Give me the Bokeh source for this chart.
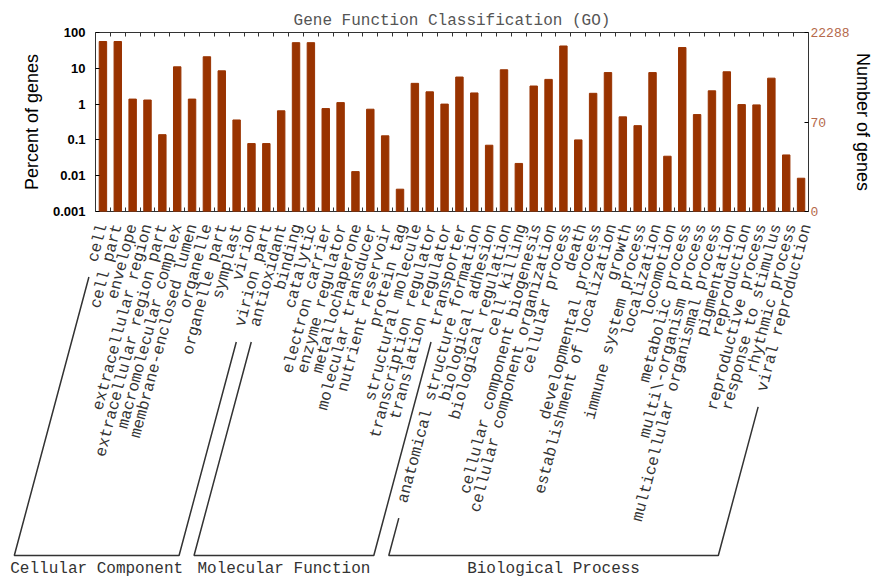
import math
from bokeh.plotting import figure
from bokeh.models import Range1d, FixedTicker, LinearAxis, LogAxis, CustomJSTickFormatter
from bokeh.core.properties import value
from bokeh.embed import file_html
from bokeh.resources import INLINE

# ---------------- data ----------------
categories = [
    "cell", "cell part", "envelope", "extracellular region",
    "extracellular region part", "macromolecular complex",
    "membrane-enclosed lumen", "organelle", "organelle part", "symplast",
    "virion", "virion part",
    "antioxidant", "binding", "catalytic", "electron carrier",
    "enzyme regulator", "metallochaperone", "molecular transducer",
    "nutrient reservoir", "protein tag", "structural molecule",
    "transcription regulator", "translation regulator", "transporter",
    "anatomical structure formation", "biological adhesion",
    "biological regulation", "cell killing", "cellular component biogenesis",
    "cellular component organization", "cellular process", "death",
    "developmental process", "establishment of localization", "growth",
    "immune system process", "localization", "locomotion",
    "metabolic process", "multi\\-organism process",
    "multicellular organismal process", "pigmentation", "reproduction",
    "reproductive process", "response to stimulus", "rhythmic process",
    "viral reproduction",
]
percent = [
    56, 56, 1.38, 1.3, 0.14, 11, 1.38, 21, 8.5, 0.36, 0.079, 0.079,
    0.65, 52, 52, 0.75, 1.1, 0.013, 0.72, 0.13, 0.0042, 3.8, 2.2, 1.0, 5.7,
    2.05, 0.071, 9.1, 0.022, 3.2, 4.9, 42, 0.1, 2.0, 7.6, 0.44, 0.25, 7.6,
    0.035, 38, 0.51, 2.35, 8.0, 0.97, 0.95, 5.3, 0.038, 0.0085,
]
groups = ["Cellular Component", "Molecular Function", "Biological Process"]
group_sizes = [12, 13, 23]
left_ticks = [0.001, 0.01, 0.1, 1, 10, 100]
left_tick_labels = ["0.001", "0.01", "0.1", "1", "10", "100"]
total_genes = 22288
right_tick_counts = [0, 70, 22288]
right_tick_labels = ["0", "70", "22288"]

# ---------------- layout constants ----------------
W = 875
H1 = 221
HB = 356
FL, FR, FT, FB = 95, 61, 32, 10
n = len(categories)
frame_w = W - FL - FR
ppu = frame_w / n
ymin, ymax = 0.001, 100

bar_color = "#993300"
txt_color = "#333333"
mono = "Liberation Mono"
sans = "Liberation Sans"

# ---------------- top figure (bars) ----------------
p = figure(width=W, height=H1, x_range=Range1d(-0.5, n - 0.5),
           y_range=Range1d(ymin, ymax), y_axis_type="log",
           toolbar_location=None, output_backend="svg",
           min_border_left=FL, min_border_right=FR,
           min_border_top=FT, min_border_bottom=FB,
           title="Gene Function Classification (GO)")
p.title.text_font = mono
p.title.text_font_size = "16px"
p.title.text_font_style = "normal"
p.title.text_color = "#555555"
p.title.align = "center"
p.title.standoff = 6
p.grid.visible = False
p.outline_line_color = "#333333"

idx = list(range(n))
p.vbar(x=idx, top=percent, bottom=ymin, width=0.5, color=bar_color)

bounds = [i + 0.5 for i in range(n - 1)]
blank = CustomJSTickFormatter(code="return ''")

def style_x(ax):
    ax.ticker = FixedTicker(ticks=bounds)
    ax.formatter = blank
    ax.major_tick_in = 4
    ax.major_tick_out = 0
    ax.minor_tick_in = 0
    ax.minor_tick_out = 0
    ax.major_label_standoff = 0
    ax.axis_line_color = None
    ax.major_tick_line_color = "#333333"

style_x(p.xaxis[0])
ax_top = LinearAxis()
style_x(ax_top)
p.add_layout(ax_top, "above")

ya = p.yaxis[0]
ya.ticker = FixedTicker(ticks=left_ticks)
ya.major_label_overrides = dict(zip(left_ticks, left_tick_labels))
ya.major_label_text_font = sans
ya.major_label_text_font_style = "bold"
ya.major_label_text_font_size = "13px"
ya.major_label_text_color = "black"
ya.major_label_standoff = 10
ya.major_tick_in = 4
ya.major_tick_out = 0
ya.minor_tick_in = 0
ya.minor_tick_out = 0
ya.axis_line_color = None
ya.axis_label = "Percent of genes"
ya.axis_label_text_font = sans
ya.axis_label_text_font_size = "18px"
ya.axis_label_text_font_style = "normal"
ya.axis_label_text_color = "black"
ya.axis_label_standoff = 8

right_pos = [max(c / total_genes * 100, ymin) for c in right_tick_counts]
ar = LogAxis(ticker=FixedTicker(ticks=right_pos))
ar.major_label_overrides = dict(zip(right_pos, right_tick_labels))
ar.major_label_text_font = mono
ar.major_label_text_font_size = "13px"
ar.major_label_text_color = "#b5694b"
ar.major_label_standoff = 2
ar.major_tick_in = 4
ar.major_tick_out = 0
ar.minor_tick_in = 0
ar.minor_tick_out = 0
ar.axis_line_color = None
ar.axis_label = "Number of genes"
ar.axis_label_text_font = sans
ar.axis_label_text_font_size = "18px"
ar.axis_label_text_font_style = "normal"
ar.axis_label_text_color = "black"
ar.axis_label_standoff = 0
p.add_layout(ar, "right")

# ---------------- bottom figure (labels + brackets) ----------------
bx0 = -0.5 - FL / ppu
bx1 = (n - 0.5) + FR / ppu
pb = figure(width=W, height=HB, x_range=Range1d(bx0, bx1),
            y_range=Range1d(0, HB), toolbar_location=None,
            output_backend="svg", x_axis_location=None, y_axis_location=None,
            min_border_left=0, min_border_right=0, min_border_top=0,
            min_border_bottom=0)
pb.outline_line_color = None
pb.grid.visible = False

theta = math.radians(75)
font_px = 16
cw = 0.6 * font_px
y0 = HB - 3
yb = 22
ylab = 9
gap = 16

pb.text(x=idx, y=[y0] * n, text=categories, angle=theta, text_align="right",
        text_baseline="middle", text_font=value(mono),
        text_font_size=f"{font_px}px", text_color=txt_color)

xs, ys, gx, gy = [], [], [], []
start = 0
for g, size in zip(groups, group_sizes):
    a, b = start, start + size - 1
    start += size
    la = len(categories[a]) * cw + gap
    lb = len(categories[b]) * cw + gap
    tb = (y0 - yb) / math.sin(theta)
    ltx = a - math.cos(theta) * la / ppu
    lty = y0 - math.sin(theta) * la
    lbx = a - math.cos(theta) * tb / ppu
    rtx = b - math.cos(theta) * lb / ppu
    rty = y0 - math.sin(theta) * lb
    rbx = b - math.cos(theta) * tb / ppu
    xs.append([ltx, lbx, rbx, rtx])
    ys.append([lty, yb, yb, rty])
    gx.append((lbx + rbx) / 2)
    gy.append(ylab)

pb.multi_line(xs=xs, ys=ys, line_color="#333333", line_width=1.5)
pb.text(x=gx, y=gy, text=groups, text_align="center", text_baseline="middle",
        text_font=value(mono), text_font_size="16px", text_color=txt_color)

open("out.html", "w").write(file_html([p, pb], INLINE))
